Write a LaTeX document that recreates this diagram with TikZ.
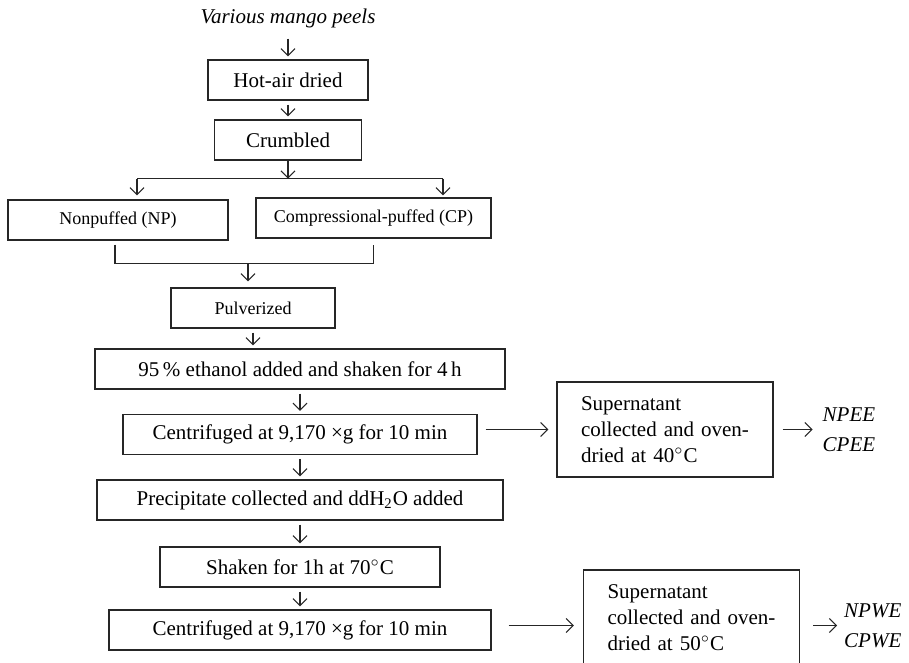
\documentclass[tikz,border=0pt]{standalone}
\usepackage{fontspec}
\setmainfont{Liberation Serif}
\usetikzlibrary{positioning, arrows.meta}

\begin{document}
\begin{tikzpicture}[node distance=30pt, on grid,
    every node/.style={font=\fontsize{10.5}{13}\selectfont},
    box/.style={draw=black!85, line width=0.65pt, minimum height=20pt, inner sep=0pt},
    small/.style={font=\fontsize{9}{11}\selectfont},
    supbox/.style={box, align=left, text width=84pt, inner xsep=12pt, minimum height=47.5pt},
    outs/.style={align=left, font=\itshape\fontsize{10.5}{15}\selectfont},
    arr/.style={-{Straight Barb[length=3.5pt, width=7pt]}, color=black!85, line width=0.55pt, shorten <=2pt, shorten >=1.5pt},
    line/.style={draw=black!85, line width=0.55pt}]
    \useasboundingbox (0,0) rectangle (454.5pt,-331.5pt);

    \node (src) at (144pt,-9pt) {\itshape Various mango peels};
    \node[box, minimum width=80pt] (hot) [below=31pt of src] {Hot-air dried};
    \node[box, minimum width=73.5pt] (crumb) [below=30pt of hot] {Crumbled};
    \node[box, small, minimum width=110pt] (np) [below left=40pt and 85pt of crumb] {Nonpuffed (NP)};
    \node[box, small, minimum width=117.5pt] (cp) [below right=39pt and 42.75pt of crumb] {Compressional-puffed (CP)};
    \node[box, small, minimum width=82pt] (pulv) [below left=84pt and 17.5pt of crumb] {Pulverized};
    \node[box, minimum width=205pt] (eth) [below right=30.5pt and 23.5pt of pulv] {95\,\% ethanol added and shaken for 4\,h};
    \node[box, minimum width=177pt] (cen1) [below=32.75pt of eth] {Centrifuged at 9,170 ×g for 10 min};
    \node[box, minimum width=203pt] (prec) [below=32.75pt of cen1] {Precipitate collected and ddH\textsubscript{2}O added};
    \node[box, minimum width=140pt] (shake) [below=33.5pt of prec] {Shaken for 1h at 70$^\circ$C};
    \node[box, minimum width=191pt] (cen2) [below=31.5pt of shake] {Centrifuged at 9,170 ×g for 10 min};
    \node[supbox] (sup1) [above right=2.5pt and 182.5pt of cen1] {Supernatant\\collected and oven-\\dried at 40$^\circ$C};
    \node[supbox] (sup2) [above right=6.25pt and 195.75pt of cen2] {Supernatant\\collected and oven-\\dried at 50$^\circ$C};
    \node[outs] (out1) [right=21pt of sup1.east, anchor=west] {NPEE\\CPEE};
    \node[outs] (out2) [below right=4pt and 18.5pt of sup2.east, anchor=west] {NPWE\\CPWE};

    % split and join points
    \coordinate (fork) at ([yshift=-9pt]crumb.south);
    \coordinate (npin) at ([xshift=9.5pt, yshift=2pt]np.north);
    \coordinate (cpin) at ([xshift=34.75pt, yshift=1pt]cp.north);
    \coordinate (npout) at ([xshift=-1.5pt, yshift=-2pt]np.south);
    \coordinate (cpout) at ([yshift=-3pt]cp.south);
    \coordinate (join) at ([yshift=-11.5pt]np.south);
    \coordinate (pulvin) at ([xshift=-2.5pt, yshift=3pt]pulv.north);

    \draw[line] (npin |- fork) -- (cpin |- fork);
    \draw[line] (npout) -- (npout |- join) -- (cpout |- join) -- (cpout);

    \path[arr]
    (src) edge (hot)
    (hot) edge (crumb)
    (crumb.south) edge[shorten <=0pt, shorten >=0pt] (fork)
    (npin |- fork) edge[shorten <=0pt, shorten >=0pt] (npin)
    (cpin |- fork) edge[shorten <=0pt, shorten >=0pt] (cpin)
    (pulvin |- join) edge[shorten <=0pt, shorten >=0pt] (pulvin)
    (pulv.south) edge (pulv.south |- eth.north)
    (eth) edge (cen1)
    (cen1) edge (prec)
    (prec) edge (shake)
    (shake) edge (cen2)
    (cen1.east |- out1) edge[shorten <=4pt, shorten >=4pt] (sup1.west |- out1)
    (sup1.east |- out1) edge[shorten <=4.5pt] (out1.west)
    (cen2.east |- out2) edge[shorten <=8.5pt, shorten >=4.5pt] (sup2.west |- out2)
    (sup2.east |- out2) edge[shorten <=6.5pt, shorten >=0pt] (out2.west);
\end{tikzpicture}
\end{document}
